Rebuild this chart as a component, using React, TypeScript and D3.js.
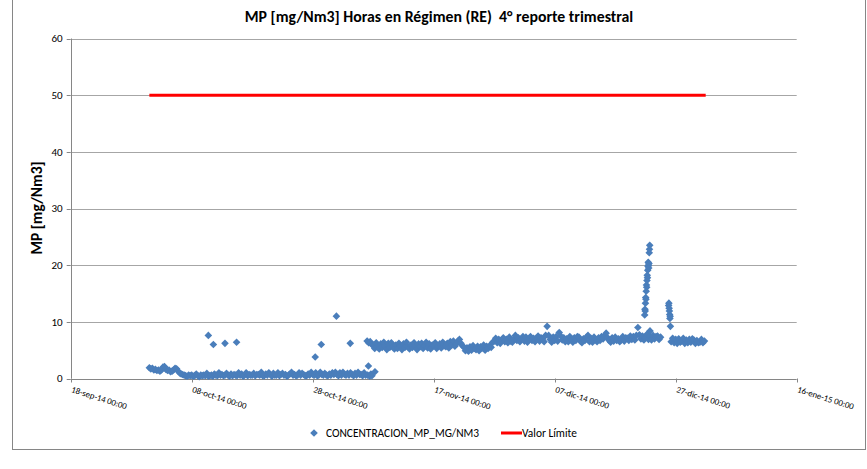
import React from 'react';
import * as d3 from 'd3';

// ---------- data ----------
const TITLE = 'MP [mg/Nm3] Horas en Régimen (RE)  4° reporte trimestral';
const Y_LABEL = 'MP [mg/Nm3]';
const SERIES_NAME = 'CONCENTRACION_MP_MG/NM3';
const LIMIT_NAME = 'Valor Límite';

const yTicks = [0, 10, 20, 30, 40, 50, 60];
const xTickDates = ['2014-09-18T00:00', '2014-10-08T00:00', '2014-10-28T00:00', '2014-11-17T00:00', '2014-12-07T00:00', '2014-12-27T00:00', '2015-01-16T00:00'];
const xTickLabels = ['18-sep-14 00:00', '08-oct-14 00:00', '28-oct-14 00:00', '17-nov-14 00:00', '07-dic-14 00:00', '27-dic-14 00:00', '16-ene-15 00:00'];

const limitValue = 50;
const limitPeriod = ['2014-10-01T00:00', '2014-12-31T23:00'];

// readings every 6 h starting 01-oct-14 00:00 (one row per day: 00h, 06h, 12h, 18h)
const sampleStart = '2014-10-01T00:00';
const sampleStepHours = 6;
const sixHourlyValues: (number | null)[][] = [
  [1.9, 1.7, 1.8, 1.5], [1.6, 1.4, 1.5, 1.3], [1.5, 2.0, 2.1, 1.6], [1.4, 1.5, 1.2, 1.3],
  [1.5, 1.8, 1.7, 1.3], [1.0, 0.8, 0.7, 0.6], [0.5, 0.4, 0.6, 0.5], [0.6, 0.4, 0.5, 0.8],
  [0.5, 0.3, 0.6, 0.5], [0.6, 0.5, 0.9, 0.4], [0.5, 0.6, 0.4, 0.8], [0.6, 0.5, 1.0, 0.6],
  [0.7, 0.5, 0.6, 0.9], [0.6, 0.4, 0.8, 0.5], [0.7, 0.6, 0.5, 1.0], [0.6, 0.8, 0.4, 0.6],
  [1.0, 0.5, 0.7, 0.6], [0.6, 0.9, 0.5, 0.7], [0.7, 0.6, 1.1, 0.5], [0.5, 0.8, 0.6, 1.0],
  [0.7, 0.4, 0.9, 0.6], [0.6, 1.0, 0.5, 0.7], [0.9, 0.6, 0.7, 0.4], [0.6, 0.8, 1.1, 0.6],
  [0.7, 0.5, 0.6, 1.0], [0.6, 0.9, 0.7, 0.5], [0.5, 0.8, 0.6, 1.1], [0.7, 0.6, 1.0, 0.5],
  [0.6, 1.1, 0.7, 0.6], [0.9, 0.6, 0.5, 0.8], [0.6, 1.0, 0.7, 1.1],
  // November
  [0.7, 0.5, 1.0, 0.6], [1.1, 0.7, 0.6, 0.9], [0.6, 1.0, 0.7, 0.5], [0.9, 0.6, 1.1, 0.7],
  [0.7, 0.5, 1.0, 0.6], [6.6, 6.3, 6.5, 6.0], [5.9, 5.3, 6.3, 5.6], [5.2, 6.1, 5.5, 6.4],
  [5.8, 5.1, 6.2, 5.5], [6.3, 5.6, 5.2, 5.9], [5.3, 6.2, 5.7, 5.1], [6.1, 5.5, 6.4, 5.6],
  [5.2, 5.9, 5.5, 6.3], [5.7, 5.1, 6.1, 5.6], [6.2, 5.3, 5.8, 6.4], [5.4, 6.1, 5.2, 5.9],
  [5.8, 6.3, 5.3, 5.7], [6.1, 5.4, 6.4, 5.8], [5.6, 6.2, 5.4, 6.5], [5.9, 6.6, 5.7, 6.1],
  [6.6, 6.9, 6.2, 5.8], [5.5, 4.9, 5.4, 4.8], [5.6, 5.0, 5.8, 5.3], [5.1, 5.7, 4.9, 5.6],
  [5.4, 5.9, 5.0, 5.7], [5.3, 5.8, 5.5, 6.4], [6.6, 7.1, 6.3, 6.9], [6.2, 6.8, 7.2, 6.5],
  [6.9, 6.3, 7.3, 6.6], [6.4, 7.0, 7.6, 6.7],
  // December
  [7.2, 6.5, 6.9, 7.4], [6.6, 7.3, 6.4, 7.0], [7.4, 6.7, 7.1, 6.5], [6.9, 7.5, 6.6, 7.2],
  [7.0, 6.5, 7.6, 9.2], [7.6, 6.9, 6.4, 7.3], [6.7, 7.4, 6.6, 8.1], [7.5, 6.8, 7.2, 6.5],
  [7.0, 6.5, 7.4, 6.8], [6.4, 7.2, 6.7, 7.4], [7.3, 6.6, 6.3, 7.0], [6.7, 7.3, 7.6, 6.5],
  [7.1, 6.4, 7.3, 6.9], [6.5, 7.2, 6.7, 7.4], [7.0, 7.5, 8.0, 7.2], [6.7, 6.4, 7.2, 6.6],
  [7.3, 6.7, 7.0, 6.5], [6.8, 7.4, 6.6, 7.2], [7.1, 6.7, 7.5, 6.9], [7.4, 6.8, 7.6, 9.0],
  [7.7, 7.0, 7.5, 6.8], [7.2, 7.8, 6.9, 7.5], [6.8, 7.6, 7.0, 7.4], [7.5, 6.9, 7.3, null],
  [null, null, null, null], [null, 6.5, 7.1, 6.3], [6.9, 6.2, 7.0, 6.4], [6.6, 7.1, 6.2, 6.8],
  [6.3, 6.9, 6.4, 7.0], [6.8, 6.2, 6.7, 6.3], [6.4, 6.9, 6.3, 6.6],
];

// individual hourly readings (peaks, outliers and transitions)
const hourlyTimes = [
  '2014-10-10T18:00', '2014-10-11T14:00', '2014-10-13T12:00', '2014-10-15T10:00',
  '2014-10-28T10:00', '2014-10-29T10:00', '2014-10-31T22:00', '2014-11-03T05:00',
  '2014-11-06T02:00', '2014-11-06T05:00', '2014-11-06T10:00', '2014-11-06T15:00',
  '2014-11-06T19:00', '2014-11-07T07:00',
  '2014-12-21T21:00', '2014-12-21T22:00', '2014-12-21T23:00', '2014-12-22T00:00',
  '2014-12-22T01:00', '2014-12-22T02:00', '2014-12-22T03:00', '2014-12-22T04:00',
  '2014-12-22T05:00', '2014-12-22T06:00', '2014-12-22T07:00', '2014-12-22T08:00',
  '2014-12-22T09:00', '2014-12-22T10:00', '2014-12-22T11:00', '2014-12-22T12:00',
  '2014-12-22T13:00', '2014-12-22T14:00', '2014-12-22T15:00', '2014-12-22T16:00',
  '2014-12-22T17:00', '2014-12-22T18:00',
  '2014-12-25T20:00', '2014-12-25T21:00', '2014-12-25T22:00', '2014-12-25T23:00',
  '2014-12-26T00:00', '2014-12-26T01:00', '2014-12-26T02:00', '2014-12-26T03:00',
];
const hourlyValues = [
  7.6, 6.0, 6.2, 6.4,
  3.8, 6.0, 11.0, 6.2,
  0.6, 2.2, 0.4, 0.8,
  0.5, 1.2,
  11.2, 12.2, 11.9, 13.3,
  14.3, 14.0, 15.4, 16.5,
  16.1, 17.3, 18.2, 17.8,
  19.1, 19.8, 20.5, 20.0,
  19.5, 20.3, 22.2, 22.8,
  23.5, 8.4,
  12.9, 13.3, 12.4, 11.9,
  11.3, 10.6, 11.0, 9.2,
];

// ---------- chart ----------
const W = 867;
const H = 469;
const FONT = 'Carlito, Lato, "Liberation Sans", sans-serif';
const BLUE = '#4a7ebb';
const GRID = '#a6a6a6';
const AXIS = '#868686';

const parse = d3.utcParse('%Y-%m-%dT%H:%M');

export default function App() {
  const x = d3
    .scaleUtc()
    .domain([parse(xTickDates[0])!, parse(xTickDates[xTickDates.length - 1])!])
    .range([70.7, 796.7]);
  const y = d3.scaleLinear().domain([0, 60]).range([378.5, 38.5]);

  const start = parse(sampleStart)!;
  const points: { t: Date; v: number }[] = [];
  sixHourlyValues.flat().forEach((v, i) => {
    if (v !== null) points.push({ t: d3.utcHour.offset(start, i * sampleStepHours), v });
  });
  hourlyTimes.forEach((s, i) => points.push({ t: parse(s)!, v: hourlyValues[i] }));

  const diamond = d3.symbol(d3.symbolSquare, 29)()!;
  const limitLine = d3
    .line<Date>()
    .x((d) => x(d))
    .y(() => y(limitValue))(limitPeriod.map((s) => parse(s)!))!;

  const x0 = x.range()[0];
  const x1 = x.range()[1];
  const yBase = y(0);

  return (
    <svg
      width={W}
      height={H}
      style={{ position: 'absolute', left: 0, top: 0, background: '#fff' }}
      fontFamily={FONT}
    >
      <rect x={0} y={0} width={W} height={H} fill="#fff" />
      <rect x={12.5} y={-2} width={853} height={451.5} fill="#fff" stroke={AXIS} strokeWidth={1} />

      <text x={439} y={22} textAnchor="middle" fontSize={15.8} fontWeight="bold" fill="#000" style={{ whiteSpace: 'pre' }}>
        {TITLE}
      </text>

      {/* grid lines */}
      {yTicks.map((t) => (
        <line key={'g' + t} x1={x0} x2={x1} y1={Math.round(y(t)) + 0.5} y2={Math.round(y(t)) + 0.5} stroke={t === 0 ? AXIS : GRID} strokeWidth={1} />
      ))}
      {/* y axis */}
      <line x1={Math.round(x0) + 0.5} x2={Math.round(x0) + 0.5} y1={y(60)} y2={yBase} stroke={AXIS} />
      {yTicks.map((t) => (
        <g key={'yt' + t}>
          <line x1={x0 - 4} x2={x0} y1={Math.round(y(t)) + 0.5} y2={Math.round(y(t)) + 0.5} stroke={AXIS} />
          <text x={x0 - 8} y={y(t)} dy="0.35em" textAnchor="end" fontSize={11} fill="#000">
            {t}
          </text>
        </g>
      ))}
      {/* x axis ticks */}
      {xTickDates.map((s, i) => {
        const px = Math.round(x(parse(s)!)) + 0.5;
        return (
          <g key={'xt' + s}>
            <line x1={px} x2={px} y1={yBase} y2={yBase + 4} stroke={AXIS} />
            <text
              transform={`translate(${px},${yBase + 11}) rotate(17.5)`}
              textAnchor="start"
              fontSize={8.8}
              fill="#000"
              dy="0.3em"
            >
              {xTickLabels[i]}
            </text>
          </g>
        );
      })}

      <text transform={`translate(42,208) rotate(-90)`} textAnchor="middle" fontSize={15.5} fontWeight="bold" fill="#000">
        {Y_LABEL}
      </text>

      {/* series */}
      <g fill={BLUE}>
        {points.map((p, i) => (
          <path key={i} d={diamond} transform={`translate(${x(p.t)},${y(p.v)}) rotate(45)`} />
        ))}
      </g>
      <path d={limitLine} stroke="#ff0000" strokeWidth={3} fill="none" />

      {/* legend */}
      <path d={diamond} fill={BLUE} transform="translate(314,433) rotate(45)" />
      <text x={326} y={433} dy="0.35em" fontSize={11.4} fill="#000">
        {SERIES_NAME}
      </text>
      <line x1={501} x2={522} y1={433} y2={433} stroke="#ff0000" strokeWidth={3} />
      <text x={522} y={433} dy="0.35em" fontSize={11.4} fill="#000">
        {LIMIT_NAME}
      </text>
    </svg>
  );
}
